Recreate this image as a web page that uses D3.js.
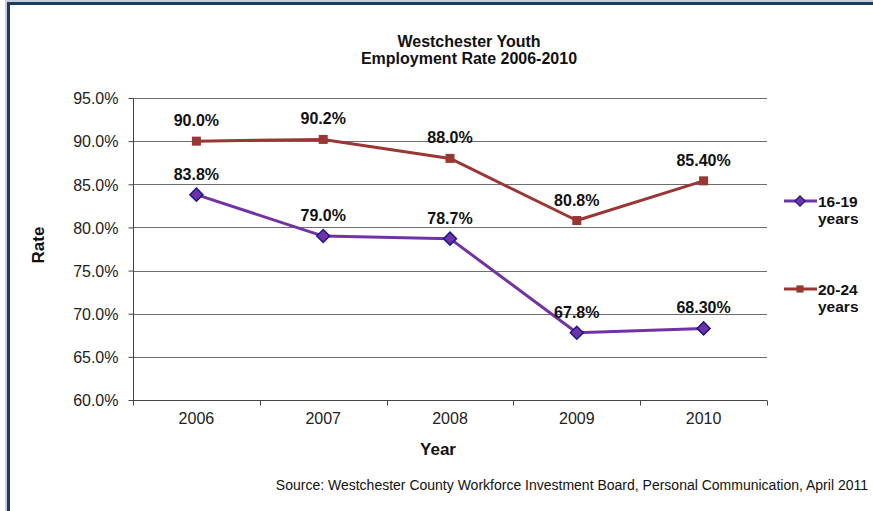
<!DOCTYPE html>
<html>
<head>
<meta charset="utf-8">
<script src="https://cdn.jsdelivr.net/npm/d3@7"></script>
<style>
  html, body { margin: 0; padding: 0; background: #fff; }
  svg { display: block; font-family: "Liberation Sans", Arial, sans-serif; }
</style>
</head>
<body>
<svg id="chart" width="873" height="511"></svg>
<script>
// Employment rates by age group, 2006-2010
const years = ["2006", "2007", "2008", "2009", "2010"];
const teens = [83.8, 79.0, 78.7, 67.8, 68.3];
const young = [90.0, 90.2, 88.0, 80.8, 85.4];
const teenLabels = ["83.8%", "79.0%", "78.7%", "67.8%", "68.30%"];
const youngLabels = ["90.0%", "90.2%", "88.0%", "80.8%", "85.40%"];
const yTicks = [60, 65, 70, 75, 80, 85, 90, 95];

const svg = d3.select("#chart");
const W = 873, H = 511;
const plot = { left: 133, right: 767, top: 98, bottom: 400 };
const FONT = "Liberation Sans, Arial, sans-serif";

// frame
svg.append("rect").attr("x", 0).attr("y", 0).attr("width", W).attr("height", H).attr("fill", "#fff");
svg.append("rect").attr("x", 7).attr("y", 2).attr("width", W).attr("height", H)
  .attr("fill", "none").attr("stroke", "#c4cedc").attr("stroke-width", 4);
svg.append("rect").attr("x", 8.5).attr("y", 3.5).attr("width", W).attr("height", H)
  .attr("fill", "none").attr("stroke", "#1f3a63").attr("stroke-width", 3);

const x = d3.scaleBand().domain(years).range([plot.left, plot.right]);
const y = d3.scaleLinear().domain([60, 95]).range([plot.bottom, plot.top]);

// gridlines
svg.append("g").selectAll("line").data(yTicks.slice(1)).join("line")
  .attr("x1", plot.left).attr("x2", plot.right)
  .attr("y1", d => Math.round(y(d)) + 0.5).attr("y2", d => Math.round(y(d)) + 0.5)
  .attr("stroke", "#6e6e6e").attr("stroke-width", 1.2);

// y axis
const yAxis = svg.append("g").attr("transform", `translate(${plot.left + 0.5},0)`)
  .call(d3.axisLeft(y).tickValues(yTicks).tickFormat(d => d.toFixed(1) + "%").tickSize(5).tickPadding(10));
yAxis.select(".domain").attr("stroke", "#444").attr("d", `M0,${plot.top}V${plot.bottom}`);
yAxis.selectAll(".tick line").attr("stroke", "#444");
yAxis.selectAll(".tick text").attr("font-size", 16).attr("fill", "#222")
  .attr("font-family", FONT).attr("dy", "0.36em");

// x axis
const xAxis = svg.append("g").attr("transform", `translate(0,${Math.round(plot.bottom) + 0.5})`)
  .call(d3.axisBottom(x).tickSize(0).tickPadding(12));
xAxis.select(".domain").attr("stroke", "#444").attr("d", `M${plot.left},0H${plot.right}`);
xAxis.selectAll(".tick text").attr("font-size", 16).attr("fill", "#222")
  .attr("font-family", FONT);
// category boundary ticks
const bounds = years.map(d => x(d)).concat([x(years[years.length - 1]) + x.bandwidth()]);
xAxis.append("g").selectAll("line").data(bounds).join("line")
  .attr("x1", d => Math.round(d) + 0.5).attr("x2", d => Math.round(d) + 0.5)
  .attr("y1", 0).attr("y2", 5).attr("stroke", "#444");

const cx = d => x(d) + x.bandwidth() / 2;
const line = d3.line().x((d, i) => cx(years[i])).y(d => y(d));

const series = [
  { name: "20-24", values: young, labels: youngLabels, color: "#993735", marker: "square" },
  { name: "16-19", values: teens, labels: teenLabels, color: "#7132a3", marker: "diamond" }
];

function drawMarker(g, kind, color, px, py, scale = 1) {
  if (kind === "square") {
    const h = 4.5 * scale;
    g.append("rect").attr("x", px - h).attr("y", py - h).attr("width", 2 * h).attr("height", 2 * h)
      .attr("fill", color);
  } else {
    const r = 6.5 * scale;
    g.append("path").attr("d", `M${px},${py - r}L${px + r},${py}L${px},${py + r}L${px - r},${py}Z`)
      .attr("fill", color).attr("stroke", "#1a1a8c").attr("stroke-width", 1.5 * scale);
  }
}

series.forEach(s => {
  const g = svg.append("g");
  g.append("path").datum(s.values).attr("d", line)
    .attr("fill", "none").attr("stroke", s.color).attr("stroke-width", 3).attr("stroke-linejoin", "round");
  s.values.forEach((v, i) => drawMarker(g, s.marker, s.color, cx(years[i]), y(v)));
  g.selectAll("text").data(s.values).join("text")
    .attr("x", (d, i) => cx(years[i])).attr("y", d => y(d) - 15)
    .attr("text-anchor", "middle").attr("font-size", 16).attr("font-weight", "bold").attr("fill", "#111")
    .text((d, i) => s.labels[i]);
});

// legend
const legend = [
  { name: "16-19", color: "#7132a3", marker: "diamond", y: 201 },
  { name: "20-24", color: "#993735", marker: "square", y: 289 }
];
legend.forEach(l => {
  const g = svg.append("g");
  g.append("line").attr("x1", 784).attr("x2", 817).attr("y1", l.y).attr("y2", l.y)
    .attr("stroke", l.color).attr("stroke-width", 3);
  drawMarker(g, l.marker, l.color, 800, l.y, 0.8);
  g.append("text").attr("x", 818).attr("y", l.y + 5.5).attr("font-size", 15.5).attr("font-weight", "bold")
    .attr("fill", "#111").text(l.name);
  g.append("text").attr("x", 818).attr("y", l.y + 23).attr("font-size", 15.5).attr("font-weight", "bold")
    .attr("fill", "#111").text("years");
});

// titles
svg.append("text").attr("x", 469).attr("y", 47).attr("text-anchor", "middle")
  .attr("font-size", 16).attr("font-weight", "bold").attr("fill", "#111").text("Westchester Youth");
svg.append("text").attr("x", 469).attr("y", 64).attr("text-anchor", "middle")
  .attr("font-size", 16).attr("font-weight", "bold").attr("fill", "#111").text("Employment Rate 2006-2010");

svg.append("text").attr("transform", "translate(44,245) rotate(-90)").attr("text-anchor", "middle")
  .attr("font-size", 17).attr("font-weight", "bold").attr("fill", "#111").text("Rate");
svg.append("text").attr("x", 438).attr("y", 455).attr("text-anchor", "middle")
  .attr("font-size", 17).attr("font-weight", "bold").attr("fill", "#111").text("Year");

svg.append("text").attr("x", 868).attr("y", 490).attr("text-anchor", "end")
  .attr("font-size", 14).attr("fill", "#111")
  .text("Source: Westchester County Workforce Investment Board, Personal Communication, April 2011");
</script>
</body>
</html>
